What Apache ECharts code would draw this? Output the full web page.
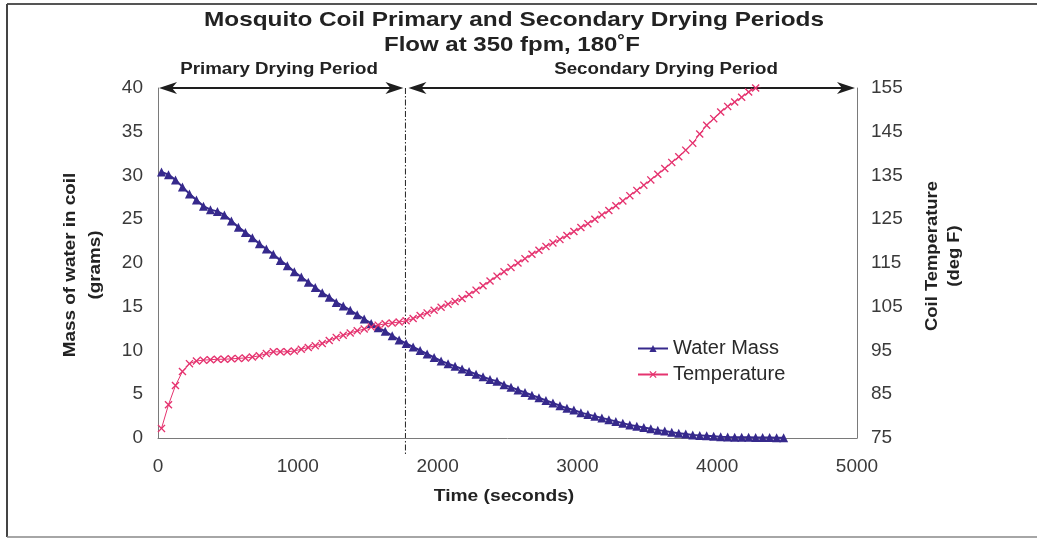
<!DOCTYPE html>
<html><head><meta charset="utf-8">
<script src="https://cdn.jsdelivr.net/npm/echarts@6/dist/echarts.min.js"></script>
<style>html,body{margin:0;padding:0;background:#fff}#c{width:1037px;height:540px}</style>
</head><body><div id="c"></div>
<script>
// ---- data ----
const timeSec = [
  25, 75, 125, 175, 225, 275, 325, 375, 425, 475,
  525, 575, 625, 675, 725, 775, 825, 875, 925, 975,
  1025, 1075, 1125, 1175, 1225, 1275, 1325, 1375, 1425, 1475,
  1525, 1575, 1625, 1675, 1725, 1775, 1825, 1875, 1925, 1975,
  2025, 2075, 2125, 2175, 2225, 2275, 2325, 2375, 2425, 2475,
  2525, 2575, 2625, 2675, 2725, 2775, 2825, 2875, 2925, 2975,
  3025, 3075, 3125, 3175, 3225, 3275, 3325, 3375, 3425, 3475,
  3525, 3575, 3625, 3675, 3725, 3775, 3825, 3875, 3925, 3975,
  4025, 4075, 4125, 4175, 4225, 4275, 4325, 4375, 4425, 4475
];
const waterMass = [
  30.4, 30.1, 29.5, 28.7, 27.9, 27.2, 26.5, 26.1, 25.9, 25.5,
  24.8, 24.1, 23.5, 22.9, 22.2, 21.6, 21.0, 20.3, 19.7, 19.0,
  18.4, 17.8, 17.2, 16.6, 16.1, 15.5, 15.1, 14.6, 14.1, 13.6,
  13.1, 12.6, 12.2, 11.7, 11.2, 10.8, 10.4, 10.0, 9.6, 9.2,
  8.8, 8.5, 8.2, 7.9, 7.6, 7.3, 7.0, 6.7, 6.5, 6.1,
  5.8, 5.5, 5.2, 4.9, 4.6, 4.3, 4.0, 3.7, 3.4, 3.2,
  2.9, 2.7, 2.5, 2.3, 2.1, 1.9, 1.7, 1.5, 1.35, 1.2,
  1.05, 0.9, 0.8, 0.65, 0.55, 0.45, 0.35, 0.3, 0.25, 0.2,
  0.15, 0.12, 0.1, 0.1, 0.08, 0.06, 0.05, 0.05, 0.04, 0.03
];
const temperature = [
  77.2, 82.6, 87.0, 90.2, 92.0, 92.6, 92.8, 92.9, 93.0, 93.0,
  93.1, 93.2, 93.3, 93.5, 93.8, 94.3, 94.7, 94.7, 94.7, 94.9,
  95.3, 95.7, 96.1, 96.6, 97.3, 98.0, 98.5, 99.0, 99.5, 99.9,
  100.4, 100.8, 101.1, 101.3, 101.5, 101.8, 102.3, 103.0, 103.6, 104.2,
  104.9, 105.6, 106.2, 106.9, 107.8, 108.8, 109.8, 110.9, 112.0, 113.0,
  114.0, 115.0, 116.0, 117.0, 117.9, 118.8, 119.6, 120.4, 121.3, 122.2,
  123.1, 124.0, 125.0, 126.0, 127.0, 128.1, 129.2, 130.4, 131.6, 132.8,
  134.0, 135.3, 136.6, 138.0, 139.3, 140.8, 142.4, 144.5, 146.5, 148.0,
  149.5, 150.8, 151.8, 152.9, 154.1, 155.0, 155.4
];
const seriesNames = ['Water Mass', 'Temperature'];
const phaseBoundary = 1770;          // seconds, end of primary drying period
const phaseLabels = ['Primary Drying Period', 'Secondary Drying Period'];
const xRange = [0, 5000, 1000];
const massRange = [0, 40, 5];
const tempRange = [75, 155, 10];

// ---- chart ----
const FONT = '"Liberation Sans", Arial, Helvetica, sans-serif';
const WM = '#36298c';
const TC = '#e5336f';
const AX = '#7a7a7a';
const LBL = '#3a3a3a';
const xSymbol = 'path://M0,1.2L1.2,0L5,3.8L8.8,0L10,1.2L6.2,5L10,8.8L8.8,10L5,6.2L1.2,10L0,8.8L3.8,5Z';

const chart = echarts.init(document.getElementById('c'), null, {renderer: 'canvas'});
const plain = v => String(v);
const option = {
  animation: false,
  backgroundColor: '#ffffff',
  grid: {left: 158, right: 180, top: 88, bottom: 102, containLabel: false},
  xAxis: {
    type: 'value', min: xRange[0], max: xRange[1], interval: xRange[2],
    axisLine: {show: true, lineStyle: {color: AX, width: 1}},
    axisTick: {show: false}, splitLine: {show: false},
    axisLabel: {fontSize: 19, color: LBL, fontFamily: FONT, margin: 19, formatter: plain}
  },
  yAxis: [
    {
      type: 'value', min: massRange[0], max: massRange[1], interval: massRange[2], position: 'left',
      axisLine: {show: true, lineStyle: {color: AX, width: 1}},
      axisTick: {show: false}, splitLine: {show: false},
      axisLabel: {fontSize: 19, color: LBL, fontFamily: FONT, margin: 15, formatter: plain}
    },
    {
      type: 'value', min: tempRange[0], max: tempRange[1], interval: tempRange[2], position: 'right',
      axisLine: {show: true, lineStyle: {color: AX, width: 1}},
      axisTick: {show: false}, splitLine: {show: false},
      axisLabel: {fontSize: 19, color: LBL, fontFamily: FONT, margin: 14, formatter: plain}
    }
  ],
  legend: {
    orient: 'vertical', left: 632, top: 333, itemWidth: 30, itemHeight: 9, itemGap: 5,
    textStyle: {fontSize: 20, color: '#2a2a2a', fontFamily: FONT, lineHeight: 21},
    data: seriesNames
  },
  series: [
    {
      name: seriesNames[0], type: 'line', yAxisIndex: 0,
      data: waterMass.map((v, i) => [timeSec[i], v]),
      symbol: 'triangle', symbolSize: 9, showAllSymbol: true,
      lineStyle: {color: WM, width: 2}, itemStyle: {color: WM}
    },
    {
      name: seriesNames[1], type: 'line', yAxisIndex: 1,
      data: temperature.map((v, i) => [timeSec[i], v]),
      symbol: xSymbol, symbolSize: 8, showAllSymbol: true,
      lineStyle: {color: TC, width: 1}, itemStyle: {color: TC}
    }
  ]
};
chart.setOption(option);

// ---- annotations positioned through the axes ----
const px = v => chart.convertToPixel({xAxisIndex: 0}, v);
const py = v => chart.convertToPixel({yAxisIndex: 0}, v);
const xL = px(xRange[0]), xR = px(xRange[1]), xB = px(phaseBoundary);
const yT = py(massRange[1]), yB = py(massRange[0]);
const DARK = '#1e1e1e';

function head(tipX, y, dir) {
  const L = 18, W = 6;
  return {
    type: 'polygon', silent: true,
    shape: {points: [[tipX, y], [tipX - dir * L, y - W], [tipX - dir * L * 0.72, y], [tipX - dir * L, y + W]]},
    style: {fill: DARK}
  };
}
function hline(xa, xb, y) {
  return {type: 'line', silent: true, shape: {x1: xa, y1: y, x2: xb, y2: y}, style: {stroke: DARK, lineWidth: 2}};
}
function txt(s, x, y, size, sx, rot, lh) {
  return {
    type: 'text', silent: true, x: x, y: y, scaleX: sx || 1, rotation: rot || 0,
    style: {text: s, fill: '#222', font: 'bold ' + size + 'px ' + FONT, textAlign: 'center',
            textVerticalAlign: 'middle', lineHeight: lh || size * 1.2}
  };
}

const a1s = xL + 1, a1e = xB - 2, a2s = xB + 3, a2e = xR - 2;
const graphics = [
  // frame
  {type: 'line', silent: true, shape: {x1: 7, y1: 4, x2: 1037, y2: 4}, style: {stroke: '#555', lineWidth: 2}},
  {type: 'line', silent: true, shape: {x1: 7, y1: 4, x2: 7, y2: 537}, style: {stroke: '#444', lineWidth: 2}},
  {type: 'line', silent: true, shape: {x1: 7, y1: 537, x2: 1037, y2: 537}, style: {stroke: '#888', lineWidth: 1.5}},
  // phase boundary
  {type: 'line', silent: true, shape: {x1: xB, y1: yT, x2: xB, y2: yB + 18},
   style: {stroke: '#222', lineWidth: 1, lineDash: [6, 2, 1.5, 2]}},
  // arrows
  hline(a1s + 6, a1e - 6, yT), head(a1s, yT, -1), head(a1e, yT, 1),
  hline(a2s + 6, a2e - 6, yT), head(a2s, yT, -1), head(a2e, yT, 1),
  // phase labels
  txt(phaseLabels[0], 279, yT - 18, 16, 1.17),
  txt(phaseLabels[1], 666, yT - 18, 16, 1.17),
  // titles
  txt('Mosquito Coil Primary and Secondary Drying Periods', 514, 20, 21, 1.16),
  txt('Flow at 350 fpm, 180˚F', 512, 45, 20, 1.2),
  // axis names
  txt('Mass of water in coil\n(grams)', 83, (yT + yB) / 2 + 2, 16, 1.18, Math.PI / 2, 25),
  txt('Coil Temperature\n(deg F)', 944, (yT + yB) / 2 - 7, 16, 1.15, Math.PI / 2, 22),
  txt('Time (seconds)', 504, 497, 16, 1.2)
];
chart.setOption({graphic: graphics});
</script>
</body></html>
